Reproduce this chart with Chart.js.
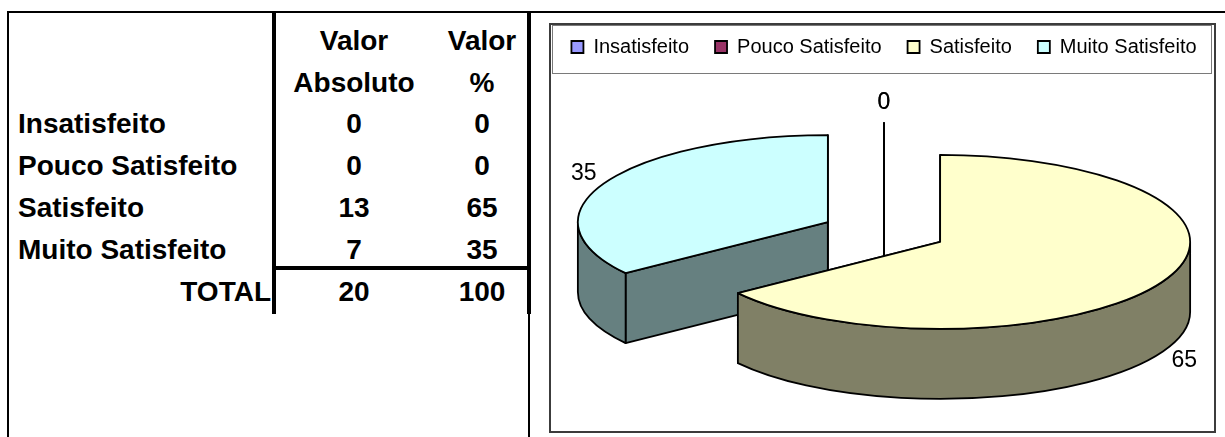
<!DOCTYPE html>
<html>
<head>
<meta charset="utf-8">
<script src="https://cdn.jsdelivr.net/npm/chart.js@4/dist/chart.umd.min.js"></script>
<style>
  html, body { margin: 0; padding: 0; background: #fff; }
  body { width: 1225px; height: 437px; position: relative; overflow: hidden;
         font-family: "Liberation Sans", Arial, sans-serif; color: #000; }
  .ln { position: absolute; background: #000; }
  .cell { position: absolute; font-weight: bold; font-size: 28px; line-height: 32px;
          height: 32px; white-space: nowrap; }
  .ctr { transform: translateX(-50%); }
  .rgt { transform: translateX(-100%); }
  #frame { position: absolute; left: 549px; top: 23px; width: 667px; height: 410px;
           box-sizing: border-box; border: 2px solid #3c3c3c; }
  #legendBox { position: absolute; left: 552px; top: 25px; width: 660px; height: 49px;
               box-sizing: border-box; border: 1px solid #7a7a7a; }
  #chartWrap { position: absolute; left: 524px; top: 11px; width: 720px; height: 422px; }
</style>
</head>
<body>
<div id="table"></div>
<div id="frame"></div>
<div id="legendBox"></div>
<div id="chartWrap"><canvas id="pie" width="720" height="422"></canvas></div>

<script>
// Survey answers: satisfaction levels
const categories = ['Insatisfeito', 'Pouco Satisfeito', 'Satisfeito', 'Muito Satisfeito'];
const absoluteValues = [0, 0, 13, 7];
const percentValues = [0, 0, 65, 35];
const totalLabel = 'TOTAL';
const totals = [20, 100];
const headerAbs = ['Valor', 'Absoluto'];
const headerPct = ['Valor', '%'];

// Slice colours: top faces and the darker walls
const topColors = ['#9999FF', '#993366', '#FFFFCC', '#CCFFFF'];
const sideColors = ['#4D4D80', '#4D1A33', '#808066', '#668080'];

// ---------- table ----------
const table = document.getElementById('table');
function line(l, t, w, h) {
  const d = document.createElement('div');
  d.className = 'ln';
  d.style.cssText = `left:${l}px;top:${t}px;width:${w}px;height:${h}px`;
  table.appendChild(d);
}
function cell(text, x, cy, cls) {
  const d = document.createElement('div');
  d.className = 'cell' + (cls ? ' ' + cls : '');
  d.style.left = x + 'px';
  d.style.top = (cy - 16) + 'px';
  d.textContent = text;
  table.appendChild(d);
}
line(7, 11, 1218, 2);     // top rule
line(7, 11, 2, 426);      // left rule
line(272, 11, 4, 303);    // rule after the label column
line(527, 11, 4, 303);    // rule after the % column
line(528, 314, 2, 123);
line(272, 266, 259, 4);   // rule above the totals

const colAbs = 354, colPct = 482;
const rowY = [124, 166, 208, 250];
cell(headerAbs[0], colAbs, 41, 'ctr');
cell(headerAbs[1], colAbs, 83, 'ctr');
cell(headerPct[0], colPct, 41, 'ctr');
cell(headerPct[1], colPct, 83, 'ctr');
categories.forEach((c, i) => {
  cell(c, 18, rowY[i]);
  cell(String(absoluteValues[i]), colAbs, rowY[i], 'ctr');
  cell(String(percentValues[i]), colPct, rowY[i], 'ctr');
});
cell(totalLabel, 271, 292, 'rgt');
cell(String(totals[0]), colAbs, 292, 'ctr');
cell(String(totals[1]), colPct, 292, 'ctr');

// ---------- 3-D pie ----------
const TILT = 0.348;   // vertical squash of the pie's top face
const DEPTH = 70;     // wall height
const EDGE = 1.8;

const pie3d = {
  id: 'pie3d',
  beforeDatasetsDraw(chart) {
    const ctx = chart.ctx;
    const ds = chart.data.datasets[0];
    const meta = chart.getDatasetMeta(0);
    const slices = meta.data.map((arc, i) => {
      const p = arc.getProps(['x', 'y', 'startAngle', 'endAngle', 'outerRadius'], true);
      const mid = (p.startAngle + p.endAngle) / 2;
      const off = arc.options.offset || 0;
      return {
        i, a0: p.startAngle, a1: p.endAngle, mid,
        cx: p.x + Math.cos(mid) * off,
        cy: p.y + Math.sin(mid) * off * TILT,
        rx: p.outerRadius, ry: p.outerRadius * TILT
      };
    });

    ctx.save();
    ctx.lineJoin = 'round';
    ctx.lineWidth = EDGE;
    ctx.strokeStyle = '#000';

    // back slices first
    slices.slice().sort((a, b) => a.cy - b.cy).forEach(s => {
      const side = sideColors[s.i];
      const top = topColors[s.i];

      // radial cut faces
      [s.a0, s.a1].forEach(a => {
        const ex = s.cx + s.rx * Math.cos(a);
        const ey = s.cy + s.ry * Math.sin(a);
        ctx.beginPath();
        ctx.moveTo(s.cx, s.cy);
        ctx.lineTo(ex, ey);
        ctx.lineTo(ex, ey + DEPTH);
        ctx.lineTo(s.cx, s.cy + DEPTH);
        ctx.closePath();
        ctx.fillStyle = side;
        ctx.fill();
        ctx.stroke();
      });

      if (s.a1 > s.a0) {
        // outer wall, front half only
        const lo = Math.max(s.a0, 0);
        const hi = Math.min(s.a1, Math.PI);
        if (hi > lo) {
          ctx.beginPath();
          ctx.ellipse(s.cx, s.cy, s.rx, s.ry, 0, lo, hi);
          ctx.lineTo(s.cx + s.rx * Math.cos(hi), s.cy + s.ry * Math.sin(hi) + DEPTH);
          ctx.ellipse(s.cx, s.cy + DEPTH, s.rx, s.ry, 0, hi, lo, true);
          ctx.closePath();
          ctx.fillStyle = side;
          ctx.fill();
          ctx.stroke();
        }
        // top face
        ctx.beginPath();
        ctx.moveTo(s.cx, s.cy);
        ctx.ellipse(s.cx, s.cy, s.rx, s.ry, 0, s.a0, s.a1);
        ctx.closePath();
        ctx.fillStyle = top;
        ctx.fill();
        ctx.stroke();
      }
    });

    // value labels
    ctx.fillStyle = '#000';
    ctx.font = '23px "Liberation Sans", Arial, sans-serif';
    ctx.textAlign = 'center';
    ctx.textBaseline = 'middle';
    slices.forEach(s => {
      const c = Math.cos(s.mid), sn = Math.sin(s.mid);
      const lx = s.cx + c * (s.rx + 24);
      const ly = s.cy + sn * (s.ry + 20) + (sn > 0.2 ? DEPTH : 0);
      ctx.fillText(String(ds.data[s.i]), lx, ly);
    });
    ctx.restore();
    return false;
  }
};

Chart.defaults.font.family = '"Liberation Sans", Arial, sans-serif';
Chart.defaults.color = '#000';

new Chart(document.getElementById('pie'), {
  type: 'pie',
  data: {
    labels: categories,
    datasets: [{
      data: percentValues,
      backgroundColor: topColors,
      borderColor: '#000',
      borderWidth: EDGE,
      offset: 63,
      radius: 250
    }]
  },
  options: {
    responsive: false,
    animation: false,
    events: [],
    layout: { padding: { left: 0, right: 0, top: 0, bottom: 36 } },
    plugins: {
      legend: {
        position: 'top',
        labels: {
          font: { size: 20 },
          color: '#000',
          boxWidth: 12,
          boxHeight: 12,
          padding: 26
        }
      },
      tooltip: { enabled: false }
    }
  },
  plugins: [pie3d]
});
</script>
</body>
</html>
